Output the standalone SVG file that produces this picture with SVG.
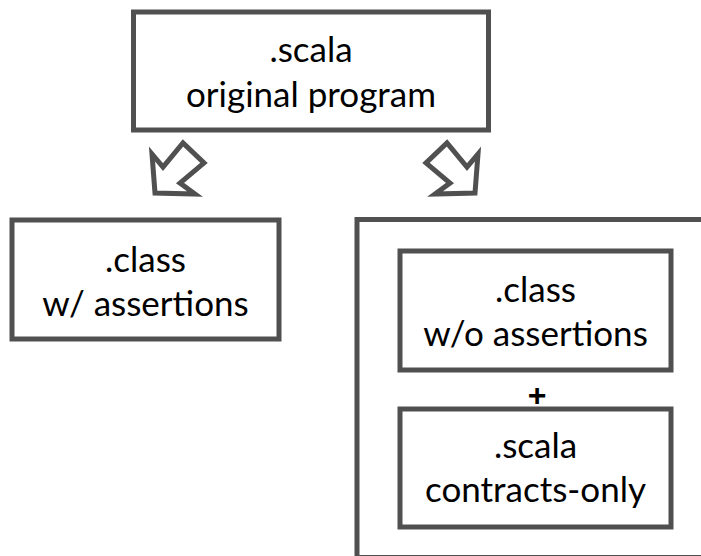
<svg xmlns="http://www.w3.org/2000/svg" width="701" height="556" viewBox="0 0 701 556">
<style>
.box{fill:#fff;stroke:#505050;stroke-width:5}
.arrow{fill:#fff;stroke:#505050;stroke-width:5;stroke-linejoin:miter}
.t{font-family:Lato,"Liberation Sans",sans-serif;font-size:35px;fill:#000;text-anchor:middle}
.plus{font-family:"Liberation Sans",sans-serif;font-size:32px;font-weight:bold;fill:#000;text-anchor:middle}
</style>
<rect width="701" height="556" fill="#fff"/>
<g id="container">
<rect class="box" x="357" y="219.5" width="400" height="338"/>
</g>
<g id="connectors">
<polygon class="arrow" points="155,193 152,154 163,167 183,143 204,163 180,183 195,194"/>
<polygon class="arrow" points="475,193 478,154 467,167 447,143 426,163 450,183 435,194"/>
</g>
<g id="scala-original">
<rect class="box" x="133.5" y="12" width="355" height="118"/>
<text class="t" x="311" y="62">.scala</text>
<text class="t" x="311" y="107">original program</text>
</g>
<g id="class-with">
<rect class="box" x="12" y="220" width="267" height="119"/>
<text class="t" x="145.5" y="272">.class</text>
<text class="t" x="145.5" y="316">w/ assertions</text>
</g>
<g id="class-without">
<rect class="box" x="400" y="251" width="271" height="119"/>
<text class="t" x="535.5" y="302">.class</text>
<text class="t" x="535.5" y="346">w/o assertions</text>
</g>
<text class="plus" x="537" y="406">+</text>
<g id="scala-contracts">
<rect class="box" x="400" y="409" width="271" height="118"/>
<text class="t" x="535.5" y="458">.scala</text>
<text class="t" x="535.5" y="502">contracts-only</text>
</g>
</svg>
